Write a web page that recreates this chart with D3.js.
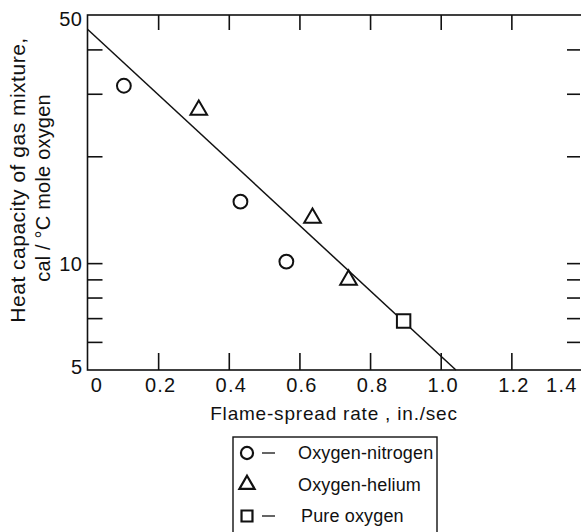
<!DOCTYPE html>
<html><head><meta charset="utf-8">
<script src="https://cdn.jsdelivr.net/npm/d3@7"></script>
<style>
body{margin:0;background:#fff;}
svg{display:block;font-family:"Liberation Sans",Arial,sans-serif;}
.narrow{font-family:"Liberation Sans Narrow","Liberation Sans",Arial,sans-serif;}
</style></head>
<body>
<svg id="chart" width="581" height="532"></svg>
<script>
// Data
const nitrogenX = [0.103, 0.433, 0.563];
const nitrogenY = [31.6, 14.9, 10.1];
const heliumX = [0.315, 0.637, 0.739];
const heliumY = [27.0, 13.4, 8.97];
const pureX = [0.895];
const pureY = [6.87];
const fitX = [0, 1.043];
const fitY = [45.6, 5];
const xTicks = [0, 0.2, 0.4, 0.6, 0.8, 1.0, 1.2, 1.4];
const xTickLabels = ["0", "0.2", "0.4", "0.6", "0.8", "1.0", "1.2", "1.4"];
const yMinorTicks = [6, 7, 8, 9, 10, 20, 30, 40];
const yLabelTicks = [5, 10, 50];
const legendLabels = ["Oxygen-nitrogen", "Oxygen-helium", "Pure oxygen"];
const legendDash = [true, false, true];

const svg = d3.select("#chart");
const L = 87.5, R = 582, T = 15, B = 370;
const x = d3.scaleLinear().domain([0, 1.4]).range([L, R]);
const y = d3.scaleLog().domain([5, 50]).range([B, T]);
const ink = "#111";

// frame
svg.append("rect").attr("x", L).attr("y", T).attr("width", R - L).attr("height", B - T)
  .attr("fill", "none").attr("stroke", ink).attr("stroke-width", 1.6);

function styleAxis(g) {
  g.select(".domain").remove();
  g.selectAll("line").attr("stroke", ink).attr("stroke-width", 1.6);
  g.selectAll("text").attr("fill", ink).attr("class", "narrow").style("font-size", "20px");
}

// bottom axis
const inner = xTicks.slice(1, -1);
svg.append("g").attr("transform", `translate(0,${B})`)
  .call(d3.axisBottom(x).tickValues(inner).tickSize(-17).tickFormat(""))
  .call(styleAxis);
const xl = svg.append("g").attr("transform", `translate(0,${B})`)
  .call(d3.axisBottom(x).tickValues(xTicks).tickSize(0).tickPadding(7)
    .tickFormat((d, i) => xTickLabels[i]))
  .call(styleAxis);
xl.selectAll(".tick text")
  .attr("text-anchor", (d, i) => i === xTicks.length - 1 ? "end" : "middle")
  .attr("dx", (d, i) => i === 0 ? 9 : (i === xTicks.length - 1 ? -5 : 2))
  .attr("dy", "0.75em").attr("letter-spacing", "1.2");

// top axis
svg.append("g").attr("transform", `translate(0,${T})`)
  .call(d3.axisTop(x).tickValues(inner).tickSize(-15).tickFormat(""))
  .call(styleAxis);

// left axis
svg.append("g").attr("transform", `translate(${L},0)`)
  .call(d3.axisLeft(y).tickValues(yMinorTicks).tickSize(-15).tickFormat(""))
  .call(styleAxis);
svg.append("g").attr("transform", `translate(${L},0)`)
  .call(d3.axisLeft(y).tickValues(yLabelTicks).tickSize(0).tickPadding(5).tickFormat(d3.format("d")))
  .call(styleAxis)
  .selectAll(".tick text").attr("letter-spacing", "0.5")
  .attr("dy", (d) => d === 5 ? "0.15em" : (d === 50 ? "0.5em" : "0.35em"));

// right axis
svg.append("g").attr("transform", `translate(${R - 2},0)`)
  .call(d3.axisRight(y).tickValues(yMinorTicks).tickSize(-13).tickFormat(""))
  .call(styleAxis);

// fit line
svg.append("line")
  .attr("x1", x(fitX[0])).attr("y1", y(fitY[0]))
  .attr("x2", x(fitX[1])).attr("y2", y(fitY[1]))
  .attr("stroke", ink).attr("stroke-width", 1.5);

// markers
const sym = {
  circle: d3.symbol().type(d3.symbolCircle).size(150),
  triangle: d3.symbol().type(d3.symbolTriangle).size(120),
  square: d3.symbol().type(d3.symbolSquare).size(180)
};
function drawMarkers(xs, ys, s) {
  svg.append("g").selectAll("path").data(xs).join("path")
    .attr("d", s)
    .attr("transform", (d, i) => `translate(${x(d)},${y(ys[i])})`)
    .attr("fill", "#fff").attr("stroke", ink).attr("stroke-width", 2);
}
drawMarkers(nitrogenX, nitrogenY, sym.circle);
drawMarkers(heliumX, heliumY, sym.triangle);
drawMarkers(pureX, pureY, sym.square);

// axis titles
svg.append("text").attr("x", 334).attr("y", 420).attr("text-anchor", "middle")
  .attr("fill", ink).style("font-size", "19px").attr("letter-spacing", "0.8")
  .text("Flame-spread rate , in./sec");
svg.append("text").attr("transform", "translate(25,180) rotate(-90)").attr("text-anchor", "middle")
  .attr("fill", ink).style("font-size", "21px").attr("letter-spacing", "0.5")
  .text("Heat capacity of gas mixture,");
svg.append("text").attr("transform", "translate(50,188) rotate(-90)").attr("text-anchor", "middle")
  .attr("fill", ink).style("font-size", "20px").attr("letter-spacing", "0.2")
  .text("cal / °C mole oxygen");

// legend
const lg = svg.append("g");
lg.append("rect").attr("x", 233).attr("y", 437).attr("width", 204).attr("height", 110)
  .attr("fill", "none").attr("stroke", ink).attr("stroke-width", 1.4);
const legSizes = [d3.symbol().type(d3.symbolCircle).size(115), d3.symbol().type(d3.symbolTriangle).size(100), d3.symbol().type(d3.symbolSquare).size(120)];
legendLabels.forEach((lab, i) => {
  const cy = 453 + i * 31.5;
  lg.append("path").attr("d", legSizes[i]).attr("transform", `translate(247,${cy})`)
    .attr("fill", "#fff").attr("stroke", ink).attr("stroke-width", 2.2);
  if (legendDash[i]) {
    lg.append("line").attr("x1", 262).attr("x2", 275).attr("y1", cy).attr("y2", cy)
      .attr("stroke", ink).attr("stroke-width", 1.3);
  }
  lg.append("text").attr("x", i === 2 ? 301 : 298).attr("y", cy + 6)
    .attr("fill", ink).style("font-size", "18px").attr("letter-spacing", "0.15").text(lab);
});
</script>
</body></html>
